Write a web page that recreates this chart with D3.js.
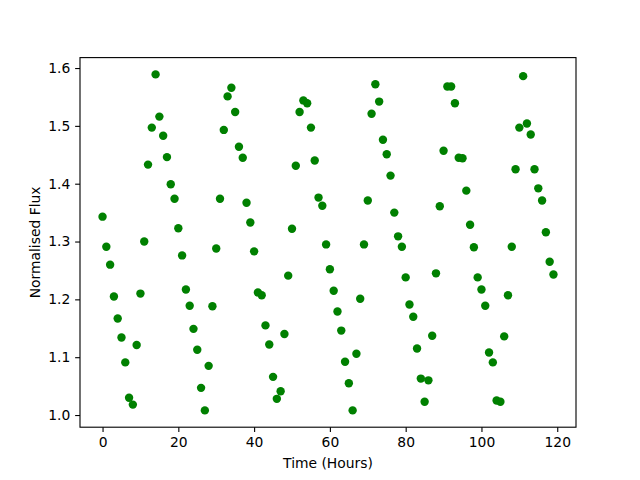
<!DOCTYPE html>
<html>
<head>
<meta charset="utf-8">
<script src="https://cdn.jsdelivr.net/npm/d3@7"></script>
<style>
html,body{margin:0;padding:0;background:#fff;}
svg{display:block;}
text{font-family:"DejaVu Sans",sans-serif;fill:#000;}
</style>
</head>
<body>
<svg id="chart" width="640" height="480"></svg>
<script>
const hours = [0,1,2,3,4,5,6,7,8,9,10,11,12,13,14,15,16,17,18,19,
20,21,22,23,24,25,26,27,28,29,30,31,32,33,34,35,36,37,38,39,
40,41,42,43,44,45,46,47,48,49,50,51,52,53,54,55,56,57,58,59,
60,61,62,63,64,65,66,67,68,69,70,71,72,73,74,75,76,77,78,79,
80,81,82,83,84,85,86,87,88,89,90,91,92,93,94,95,96,97,98,99,
100,101,102,103,104,105,106,107,108,109,110,111,112,113,114,115,116,117,118,119];
const flux = [1.343,1.291,1.260,1.205,1.167,1.134,1.091,1.030,1.018,1.121,
1.210,1.300,1.433,1.497,1.589,1.516,1.483,1.446,1.399,1.374,
1.323,1.276,1.217,1.189,1.149,1.113,1.047,1.008,1.085,1.188,
1.288,1.374,1.493,1.551,1.566,1.524,1.464,1.445,1.367,1.333,
1.283,1.212,1.207,1.155,1.122,1.066,1.028,1.041,1.140,1.241,
1.322,1.431,1.524,1.544,1.539,1.497,1.440,1.376,1.362,1.295,
1.252,1.215,1.179,1.146,1.092,1.055,1.008,1.106,1.201,1.295,
1.371,1.521,1.572,1.542,1.476,1.451,1.414,1.350,1.309,1.291,
1.238,1.191,1.170,1.115,1.063,1.023,1.060,1.137,1.245,1.361,
1.457,1.568,1.568,1.539,1.445,1.444,1.388,1.329,1.290,1.238,
1.217,1.189,1.108,1.091,1.025,1.023,1.136,1.207,1.291,1.425,
1.497,1.586,1.504,1.485,1.425,1.392,1.371,1.316,1.265,1.243];
const xTicks = [0,20,40,60,80,100,120];
const yTicks = [1.0,1.1,1.2,1.3,1.4,1.5,1.6];
const xLabel = "Time (Hours)";
const yLabel = "Normalised Flux";

const L = 80, R = 576, T = 57.6, B = 427.2;
const svg = d3.select("#chart");

function padded(ext){ const s = ext[1]-ext[0]; return [ext[0]-0.05*s, ext[1]+0.05*s]; }
const x = d3.scaleLinear().domain(padded(d3.extent(hours))).range([L, R]);
const y = d3.scaleLinear().domain(padded(d3.extent(flux))).range([B, T]);

const fs = 13.89;
const tickLen = 4.86;

// points
svg.append("g").selectAll("circle")
  .data(hours.map((h,i)=>[h,flux[i]]))
  .join("circle")
  .attr("cx", d=>x(d[0]))
  .attr("cy", d=>y(d[1]))
  .attr("r", 4.2)
  .attr("fill", "#008000");

// x axis
const xa = d3.axisBottom(x).tickValues(xTicks).tickFormat(d3.format("d")).tickSizeOuter(0).tickSize(tickLen).tickPadding(4.86);
const gx = svg.append("g").attr("transform", `translate(0,${B})`).call(xa);
gx.select(".domain").remove();
gx.selectAll("line").attr("stroke","#000").attr("stroke-width",1.11);
gx.selectAll("text").attr("font-size", fs).attr("font-family","DejaVu Sans").attr("fill","#000");

// y axis
const ya = d3.axisLeft(y).tickValues(yTicks).tickFormat(d3.format(".1f")).tickSizeOuter(0).tickSize(tickLen).tickPadding(4.86);
const gy = svg.append("g").attr("transform", `translate(${L},0)`).call(ya);
gy.select(".domain").remove();
gy.selectAll("line").attr("stroke","#000").attr("stroke-width",1.11);
gy.selectAll("text").attr("font-size", fs).attr("font-family","DejaVu Sans").attr("fill","#000");

// frame
svg.append("rect").attr("x",L).attr("y",T).attr("width",R-L).attr("height",B-T)
  .attr("fill","none").attr("stroke","#000").attr("stroke-width",1.11);

// labels
svg.append("text").attr("x",(L+R)/2).attr("y",468).attr("text-anchor","middle")
  .attr("font-size",fs).text(xLabel);
svg.append("text").attr("transform",`translate(40,${(T+B)/2}) rotate(-90)`).attr("text-anchor","middle")
  .attr("font-size",fs).text(yLabel);
</script>
</body>
</html>
